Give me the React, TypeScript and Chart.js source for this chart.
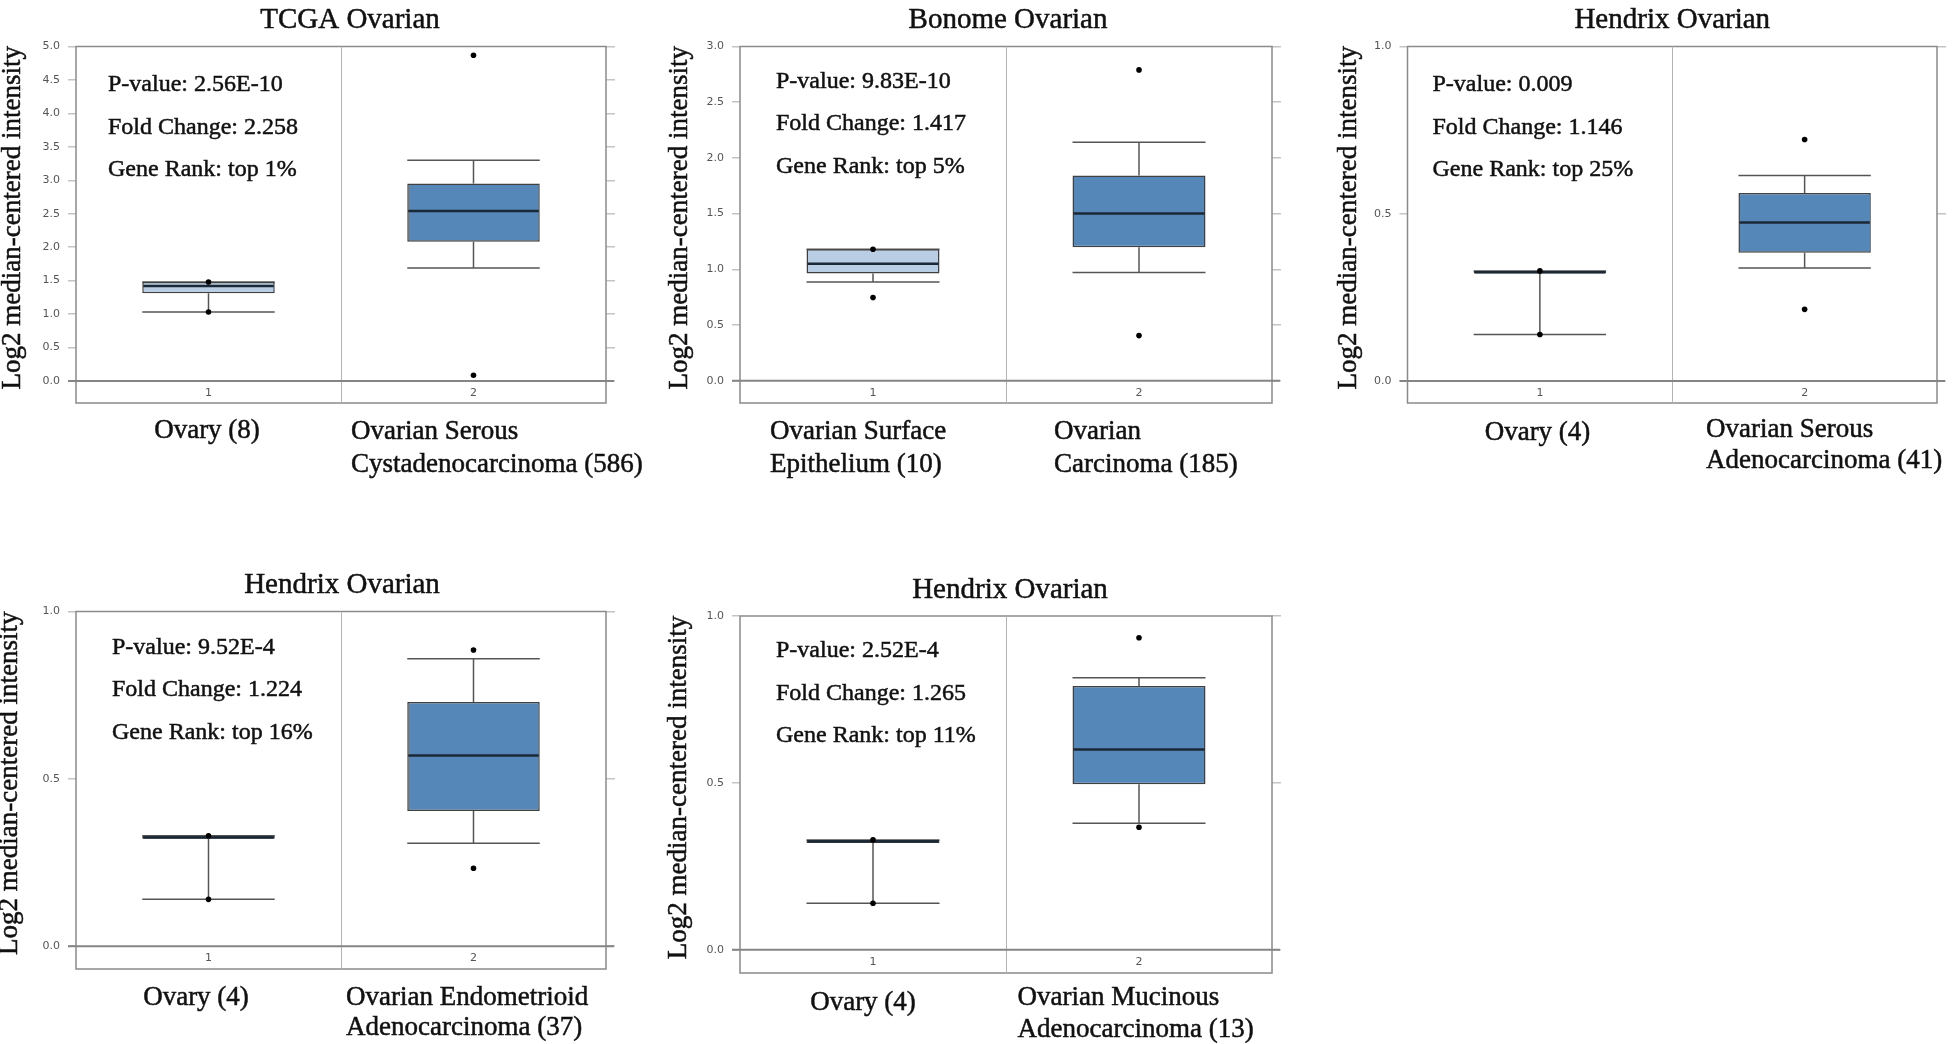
import React, { useEffect, useRef } from 'react';
import { Chart, registerables } from 'chart.js';

Chart.register(...registerables);

// ---------------- data ----------------
const groupTicks = ['1', '2'];
const yAxisTitle = 'Log2 median-centered intensity';
const panelTitles = ['TCGA Ovarian', 'Bonome Ovarian', 'Hendrix Ovarian', 'Hendrix Ovarian', 'Hendrix Ovarian'];

// TCGA Ovarian
const tcgaStats = ['P-value: 2.56E-10', 'Fold Change: 2.258', 'Gene Rank: top 1%'];
const tcgaGroups = [['Ovary (8)'], ['Ovarian Serous', 'Cystadenocarcinoma (586)']];
const tcgaLow = [1.03, 1.69];
const tcgaQ1 = [1.31, 2.08];
const tcgaMedian = [1.42, 2.54];
const tcgaQ3 = [1.48, 2.95];
const tcgaHigh = [1.48, 3.3];
const tcgaMin = [1.03, 0.085];
const tcgaMax = [1.48, 4.87];

// Bonome Ovarian
const bonomeStats = ['P-value: 9.83E-10', 'Fold Change: 1.417', 'Gene Rank: top 5%'];
const bonomeGroups = [['Ovarian Surface', 'Epithelium (10)'], ['Ovarian', 'Carcinoma (185)']];
const bonomeLow = [0.887, 0.971];
const bonomeQ1 = [0.962, 1.199];
const bonomeMedian = [1.049, 1.5];
const bonomeQ3 = [1.18, 1.843];
const bonomeHigh = [1.18, 2.14];
const bonomeMin = [0.746, 0.405];
const bonomeMax = [1.18, 2.79];

// Hendrix Ovarian - Serous
const serousStats = ['P-value: 0.009', 'Fold Change: 1.146', 'Gene Rank: top 25%'];
const serousGroups = [['Ovary (4)'], ['Ovarian Serous', 'Adenocarcinoma (41)']];
const serousLow = [0.139, 0.338];
const serousQ1 = [0.321, 0.383];
const serousMedian = [0.325, 0.474];
const serousQ3 = [0.329, 0.562];
const serousHigh = [0.329, 0.614];
const serousMin = [0.139, 0.214];
const serousMax = [0.329, 0.722];

// Hendrix Ovarian - Endometrioid
const endoStats = ['P-value: 9.52E-4', 'Fold Change: 1.224', 'Gene Rank: top 16%'];
const endoGroups = [['Ovary (4)'], ['Ovarian Endometrioid', 'Adenocarcinoma (37)']];
const endoLow = [0.14, 0.308];
const endoQ1 = [0.321, 0.404];
const endoMedian = [0.325, 0.57];
const endoQ3 = [0.33, 0.73];
const endoHigh = [0.33, 0.859];
const endoMin = [0.14, 0.233];
const endoMax = [0.33, 0.885];

// Hendrix Ovarian - Mucinous
const mucStats = ['P-value: 2.52E-4', 'Fold Change: 1.265', 'Gene Rank: top 11%'];
const mucGroups = [['Ovary (4)'], ['Ovarian Mucinous', 'Adenocarcinoma (13)']];
const mucLow = [0.139, 0.379];
const mucQ1 = [0.32, 0.496];
const mucMedian = [0.325, 0.6];
const mucQ3 = [0.329, 0.79];
const mucHigh = [0.329, 0.815];
const mucMin = [0.139, 0.367];
const mucMax = [0.329, 0.935];

const yMins = [-0.33, -0.2, -0.066, -0.068, -0.07];
const yMaxs = [5, 3, 1, 1, 1];

const panels = [
  { title: panelTitles[0], stats: tcgaStats, groups: tcgaGroups, low: tcgaLow, q1: tcgaQ1, med: tcgaMedian, q3: tcgaQ3, high: tcgaHigh, min: tcgaMin, max: tcgaMax, yMin: yMins[0], yMax: yMaxs[0] },
  { title: panelTitles[1], stats: bonomeStats, groups: bonomeGroups, low: bonomeLow, q1: bonomeQ1, med: bonomeMedian, q3: bonomeQ3, high: bonomeHigh, min: bonomeMin, max: bonomeMax, yMin: yMins[1], yMax: yMaxs[1] },
  { title: panelTitles[2], stats: serousStats, groups: serousGroups, low: serousLow, q1: serousQ1, med: serousMedian, q3: serousQ3, high: serousHigh, min: serousMin, max: serousMax, yMin: yMins[2], yMax: yMaxs[2] },
  { title: panelTitles[3], stats: endoStats, groups: endoGroups, low: endoLow, q1: endoQ1, med: endoMedian, q3: endoQ3, high: endoHigh, min: endoMin, max: endoMax, yMin: yMins[3], yMax: yMaxs[3] },
  { title: panelTitles[4], stats: mucStats, groups: mucGroups, low: mucLow, q1: mucQ1, med: mucMedian, q3: mucQ3, high: mucHigh, min: mucMin, max: mucMax, yMin: yMins[4], yMax: yMaxs[4] },
];

// ---------------- layout / style ----------------
const layouts = [
  { region: [0, 0, 650, 520], plot: [76, 46.5, 606, 403], titleDx: 9, yTitleDx: 63, statDx: 32, statDy: 44.5, cat1: { align: 'center', dx: 131, dy: 35 }, cat2: { dx: 275, dy: 36 }, gap: 33 },
  { region: [650, 0, 650, 520], plot: [740, 46.5, 1272, 403], titleDx: 2, yTitleDx: 60, statDx: 36, statDy: 41, cat1: { align: 'left', dx: 30, dy: 36 }, cat2: { dx: 314, dy: 36 }, gap: 33 },
  { region: [1300, 0, 652, 520], plot: [1407.5, 46.5, 1937, 403], titleDx: 0, yTitleDx: 59, statDx: 25, statDy: 44.5, cat1: { align: 'center', dx: 130, dy: 37 }, cat2: { dx: 298.5, dy: 34 }, gap: 31 },
  { region: [0, 520, 650, 524], plot: [76, 611.5, 606, 969], titleDx: 1, yTitleDx: 66, statDx: 36, statDy: 42, cat1: { align: 'center', dx: 120, dy: 36 }, cat2: { dx: 270, dy: 36 }, gap: 30 },
  { region: [650, 520, 650, 524], plot: [740, 616, 1272, 973], titleDx: 4, yTitleDx: 61, statDx: 36, statDy: 41, cat1: { align: 'center', dx: 123, dy: 37 }, cat2: { dx: 277.5, dy: 32 }, gap: 32 },
];

const boxFills = ['#b9cee5', '#5687b9'];
const SERIF = '"Liberation Serif", "Times New Roman", serif';
const SANS = '"DejaVu Sans", Verdana, sans-serif';

function heavyText(ctx: CanvasRenderingContext2D, s: string, x: number, y: number) {
  ctx.fillText(s, x, y);
  ctx.strokeText(s, x, y);
}

const boxPlotPlugin = {
  id: 'boxPlotExtras',
  beforeDatasetsDraw(chart: any) {
    const { ctx, chartArea: a, scales } = chart;
    const x = scales.x, y = scales.y;
    const p = chart.config.options.plugins.boxPlotExtras.panel;
    ctx.save();
    // frame
    ctx.strokeStyle = '#8a8a8a';
    ctx.lineWidth = 1.5;
    ctx.strokeRect(a.left, a.top, a.right - a.left, a.bottom - a.top);
    // divider between groups
    const mid = (x.getPixelForValue(0) + x.getPixelForValue(1)) / 2;
    ctx.strokeStyle = '#b4b4b4';
    ctx.lineWidth = 1;
    ctx.beginPath();
    ctx.moveTo(Math.round(mid) + 0.5, a.top);
    ctx.lineTo(Math.round(mid) + 0.5, a.bottom);
    ctx.stroke();
    // zero line
    const y0 = y.getPixelForValue(0);
    ctx.strokeStyle = '#858585';
    ctx.lineWidth = 2;
    ctx.beginPath();
    ctx.moveTo(a.left - 8, y0);
    ctx.lineTo(a.right + 8, y0);
    ctx.stroke();
    // whiskers
    const meta = chart.getDatasetMeta(0);
    ctx.strokeStyle = '#555555';
    ctx.lineWidth = 1.5;
    p.q1.forEach((_: number, i: number) => {
      const cx = x.getPixelForValue(i);
      const hw = meta.data[i].width / 2;
      const yl = y.getPixelForValue(p.low[i]);
      const yh = y.getPixelForValue(p.high[i]);
      const yq1 = y.getPixelForValue(p.q1[i]);
      const yq3 = y.getPixelForValue(p.q3[i]);
      ctx.beginPath();
      ctx.moveTo(cx, yq1); ctx.lineTo(cx, yl);
      ctx.moveTo(cx, yq3); ctx.lineTo(cx, yh);
      ctx.moveTo(cx - hw, yl); ctx.lineTo(cx + hw, yl);
      ctx.moveTo(cx - hw, yh); ctx.lineTo(cx + hw, yh);
      ctx.stroke();
    });
    ctx.restore();
  },
  afterDatasetDraw(chart: any, args: any) {
    if (args.index !== 0) return;
    const { ctx, scales } = chart;
    const p = chart.config.options.plugins.boxPlotExtras.panel;
    const meta = chart.getDatasetMeta(0);
    ctx.save();
    ctx.strokeStyle = '#1b2836';
    ctx.lineWidth = 2.5;
    p.med.forEach((v: number, i: number) => {
      const cx = scales.x.getPixelForValue(i);
      const hw = meta.data[i].width / 2;
      const ym = scales.y.getPixelForValue(v);
      ctx.beginPath();
      ctx.moveTo(cx - hw + 1, ym);
      ctx.lineTo(cx + hw - 1, ym);
      ctx.stroke();
    });
    ctx.restore();
  },
  afterDraw(chart: any) {
    const { ctx, chartArea: a, scales } = chart;
    const opts = chart.config.options.plugins.boxPlotExtras;
    const p = opts.panel;
    const l = opts.layout;
    const x = scales.x, y = scales.y;
    ctx.save();
    ctx.fillStyle = '#111';
    ctx.strokeStyle = '#111';
    ctx.lineWidth = 0.5;
    // title
    ctx.font = `29px ${SERIF}`;
    ctx.textAlign = 'center';
    ctx.textBaseline = 'alphabetic';
    heavyText(ctx, p.title, (a.left + a.right) / 2 + l.titleDx, a.top - 18.5);
    // y title
    ctx.save();
    ctx.translate(a.left - l.yTitleDx, (a.top + a.bottom) / 2 - 7);
    ctx.rotate(-Math.PI / 2);
    ctx.font = `27px ${SERIF}`;
    ctx.textAlign = 'center';
    ctx.textBaseline = 'middle';
    heavyText(ctx, yAxisTitle, 0, 0);
    ctx.restore();
    // stats
    ctx.font = `24px ${SERIF}`;
    ctx.textAlign = 'left';
    p.stats.forEach((s: string, i: number) => {
      heavyText(ctx, s, a.left + l.statDx, a.top + l.statDy + i * 42.5);
    });
    // group names
    ctx.font = `27px ${SERIF}`;
    ctx.textAlign = l.cat1.align;
    p.groups[0].forEach((s: string, i: number) => {
      heavyText(ctx, s, a.left + l.cat1.dx, a.bottom + l.cat1.dy + i * l.gap);
    });
    ctx.textAlign = 'left';
    p.groups[1].forEach((s: string, i: number) => {
      heavyText(ctx, s, a.left + l.cat2.dx, a.bottom + l.cat2.dy + i * l.gap);
    });
    // group tick numbers inside the frame
    const y0 = y.getPixelForValue(0);
    ctx.font = `11px ${SANS}`;
    ctx.fillStyle = '#555';
    ctx.textAlign = 'center';
    ctx.textBaseline = 'middle';
    groupTicks.forEach((t, i) => {
      ctx.fillText(t, x.getPixelForValue(i), (y0 + a.bottom) / 2 + 1);
    });
    ctx.restore();
  },
};

function BoxPanel({ panel, layout }: { panel: any; layout: any }) {
  const ref = useRef<HTMLCanvasElement | null>(null);
  const [rx, ry, rw, rh] = layout.region;
  useEffect(() => {
    if (!ref.current) return;
    const [L, T, R, B] = layout.plot;
    const leftW = L - rx;
    const rightW = rx + rw - R;
    const padTop = T - ry;
    const padBottom = ry + rh - B;
    const keepNonNeg = (s: any) => {
      s.ticks = s.ticks.filter((t: any) => t.value >= -1e-9);
    };
    const chart = new Chart(ref.current, {
      type: 'bar',
      data: {
        labels: groupTicks,
        datasets: [
          {
            type: 'bar',
            data: panel.q1.map((v: number, i: number) => [v, panel.q3[i]]),
            backgroundColor: boxFills,
            borderColor: '#404040',
            borderWidth: 1.5,
            borderSkipped: false,
            barPercentage: 0.5,
            categoryPercentage: 1,
            order: 1,
          } as any,
          {
            type: 'line',
            data: panel.max,
            showLine: false,
            pointRadius: 2.8,
            pointBackgroundColor: '#000',
            pointBorderWidth: 0,
            clip: false,
            order: 0,
          } as any,
          {
            type: 'line',
            data: panel.min,
            showLine: false,
            pointRadius: 2.8,
            pointBackgroundColor: '#000',
            pointBorderWidth: 0,
            clip: false,
            order: 0,
          } as any,
        ],
      },
      options: {
        responsive: false,
        animation: false,
        devicePixelRatio: 1,
        events: [],
        layout: { padding: { top: padTop, bottom: padBottom, left: 0, right: 0 } },
        plugins: {
          legend: { display: false },
          tooltip: { enabled: false },
          title: { display: false },
          boxPlotExtras: { panel, layout },
        } as any,
        scales: {
          x: { display: false, offset: true },
          y: {
            position: 'left',
            min: panel.yMin,
            max: panel.yMax,
            afterBuildTicks: keepNonNeg,
            afterFit: (s: any) => { s.width = leftW; },
            ticks: {
              stepSize: 0.5,
              padding: 8,
              color: '#555',
              font: { family: SANS, size: 11 },
              callback: (v: any) => Number(v).toFixed(1),
            },
            grid: { drawOnChartArea: false, drawTicks: true, tickLength: 8, color: '#c4c4c4', lineWidth: 1.5 },
            border: { display: false },
          },
          y2: {
            position: 'right',
            min: panel.yMin,
            max: panel.yMax,
            afterBuildTicks: keepNonNeg,
            afterFit: (s: any) => { s.width = rightW; },
            ticks: { display: false, stepSize: 0.5 },
            grid: { drawOnChartArea: false, drawTicks: true, tickLength: 9, color: '#c4c4c4', lineWidth: 1.5 },
            border: { display: false },
          },
        },
      } as any,
      plugins: [boxPlotPlugin as any],
    });
    return () => chart.destroy();
  }, []);
  return (
    <canvas
      ref={ref}
      width={rw}
      height={rh}
      style={{ position: 'absolute', left: rx, top: ry, width: rw, height: rh }}
    />
  );
}

export default function App() {
  return (
    <div style={{ position: 'absolute', left: 0, top: 0, width: 1952, height: 1044, background: '#fff', overflow: 'hidden' }}>
      {panels.map((p, i) => (
        <BoxPanel key={i} panel={p} layout={layouts[i]} />
      ))}
    </div>
  );
}
